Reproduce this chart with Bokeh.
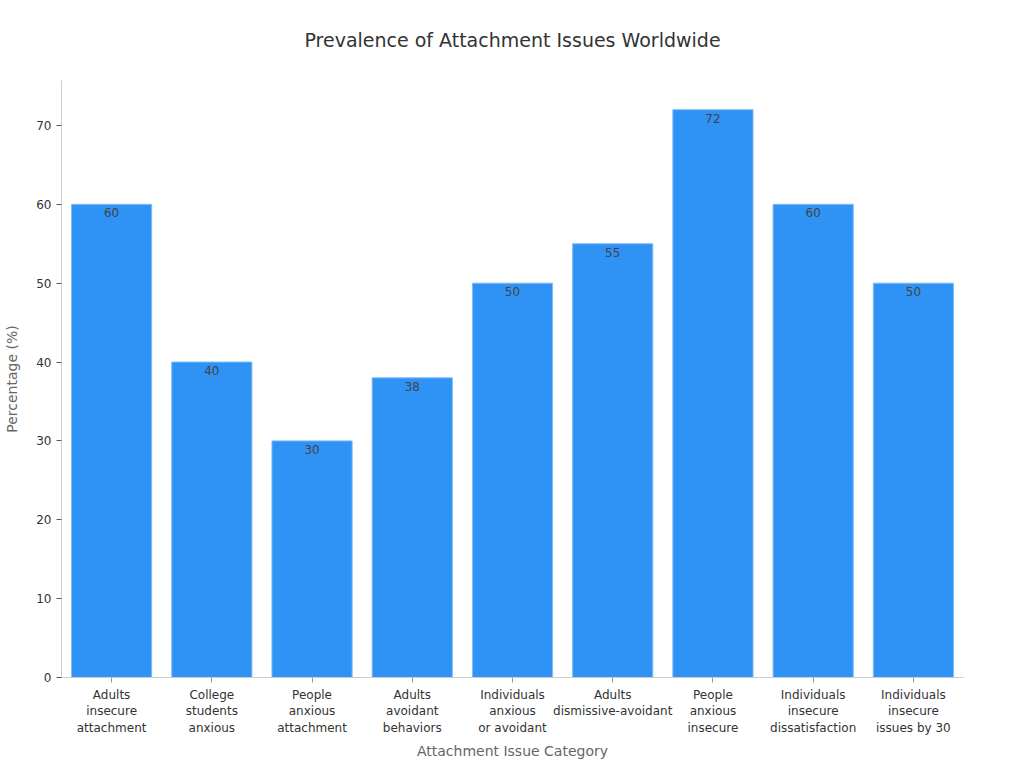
from bokeh.plotting import figure
from bokeh.models import ColumnDataSource, Range1d, SingleIntervalTicker
from bokeh.core.properties import value
from bokeh.embed import file_html
from bokeh.resources import INLINE

categories = [
    "Adults\ninsecure\nattachment",
    "College\nstudents\nanxious",
    "People\nanxious\nattachment",
    "Adults\navoidant\nbehaviors",
    "Individuals\nanxious\nor avoidant",
    "Adults\ndismissive-avoidant",
    "People\nanxious\ninsecure",
    "Individuals\ninsecure\ndissatisfaction",
    "Individuals\ninsecure\nissues by 30",
]
values = [60, 40, 30, 38, 50, 55, 72, 60, 50]
labels = [str(v) for v in values]

FONT = "DejaVu Sans"

src = ColumnDataSource(dict(cat=categories, val=values, lab=labels))

p = figure(
    x_range=categories,
    y_range=Range1d(0, 75.7),
    width=1024, height=768,
    output_backend="svg", toolbar_location=None,
    min_border_left=61, min_border_right=61,
    min_border_top=80, min_border_bottom=91,
)
p.title.text = "Prevalence of Attachment Issues Worldwide"
p.title.align = "center"
p.title.vertical_align = "top"
p.title.text_font = FONT
p.title.text_font_size = "19px"
p.title.text_font_style = "normal"
p.title.text_color = "#333333"
p.title.standoff = 56

p.vbar(x="cat", top="val", width=0.8, source=src,
       fill_color="#2f92f5", line_color="#7fbcf8", line_width=1)
p.text(x="cat", y="val", text="lab", source=src,
       text_align="center", text_baseline="top", y_offset=4,
       text_font=value(FONT), text_font_size="12px", text_color="#444444")

p.xgrid.visible = False
p.ygrid.visible = False
p.outline_line_color = None

p.yaxis.ticker = SingleIntervalTicker(interval=10)
for ax in (p.xaxis[0], p.yaxis[0]):
    ax.axis_line_color = "#cccccc"
    ax.major_tick_line_color = "#555555"
    ax.minor_tick_line_color = None
    ax.major_tick_out = 5
    ax.major_tick_in = 0
    ax.major_label_text_font = FONT
    ax.major_label_text_font_size = "12px"
    ax.major_label_text_color = "#333333"
    ax.axis_label_text_font = FONT
    ax.axis_label_text_font_size = "14px"
    ax.axis_label_text_font_style = "normal"
    ax.axis_label_text_color = "#666666"

p.xaxis.axis_label = "Attachment Issue Category"
p.yaxis.axis_label = "Percentage (%)"
p.yaxis.axis_label_standoff = 13
p.xaxis.major_tick_line_color = "#999999"

open("out.html", "w").write(file_html(p, INLINE))
